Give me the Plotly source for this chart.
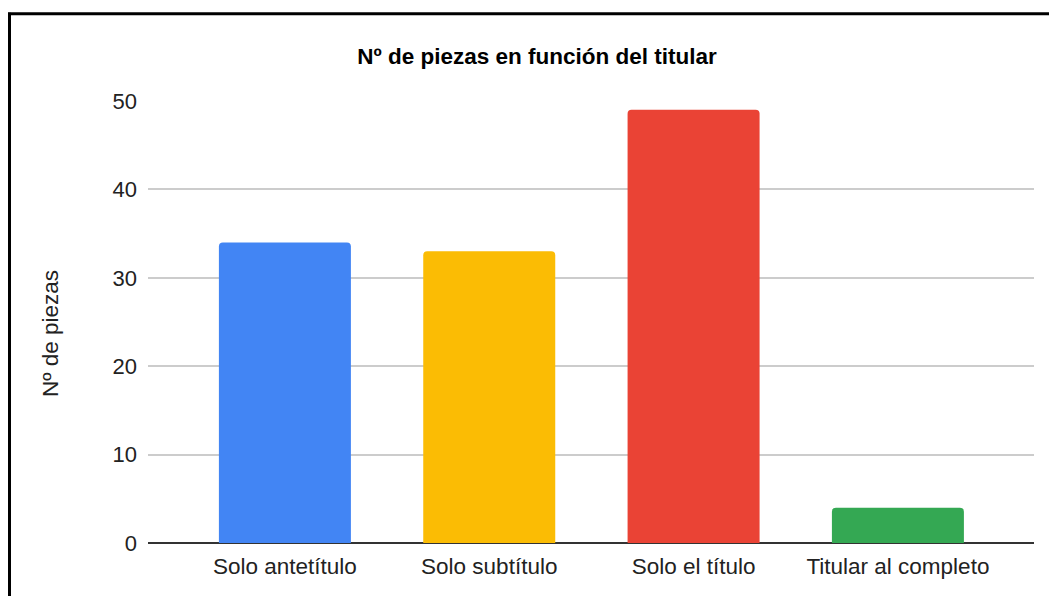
import plotly.graph_objects as go

categories = ["Solo antetítulo", "Solo subtítulo", "Solo el título", "Titular al completo"]
values = [34, 33, 49, 4]
colors = ["#4285F4", "#FBBC04", "#EA4335", "#34A853"]
y_ticks = [0, 10, 20, 30, 40, 50]

# page body has an 8px margin; work in reference-pixel coordinates minus that offset
OFF = 8
W, H = 1057 - OFF, 596 - OFF
ML = 148 - OFF
MT = 100.5 - OFF
MR = W - (1034 - OFF)
MB = H - (543.5 - OFF)
PW = W - ML - MR
PH = H - MT - MB

FONT = "Arial, Liberation Sans, sans-serif"

fig = go.Figure(
    go.Bar(
        x=categories,
        y=values,
        marker=dict(color=colors, line=dict(width=0)),
        width=0.646,
        hoverinfo="x+y",
    )
)

def px_x(p):
    return (p - OFF - ML) / PW

def px_y(p):
    return (H - MB - (p - OFF)) / PH

fig.update_layout(
    width=W,
    height=H,
    margin=dict(l=ML, r=MR, t=MT, b=MB),
    paper_bgcolor="white",
    plot_bgcolor="white",
    barcornerradius=4,
    showlegend=False,
    font=dict(family=FONT, color="#222222"),
    title=dict(
        text="<b>Nº de piezas en función del titular</b>",
        x=(537 - OFF) / W,
        xanchor="center",
        y=1 - (56 - OFF) / H,
        yanchor="middle",
        font=dict(size=22.5, color="#000000", family=FONT),
    ),
    xaxis=dict(
        range=[-0.67, 3.666],
        showgrid=False,
        showline=False,
        zeroline=False,
        ticks="",
        tickfont=dict(size=22.5, color="#222222", family=FONT),
        ticklabelstandoff=7,
    ),
    yaxis=dict(
        range=[0, 50],
        tickvals=y_ticks,
        showgrid=True,
        gridcolor="#cccccc",
        gridwidth=1.5,
        zeroline=True,
        zerolinecolor="#333333",
        zerolinewidth=2,
        showline=False,
        ticks="",
        tickfont=dict(size=22, color="#222222", family=FONT),
        ticklabelstandoff=10,
    ),
    annotations=[
        dict(
            text="Nº de piezas",
            xref="paper",
            yref="paper",
            x=px_x(51),
            y=px_y(334),
            xanchor="center",
            yanchor="middle",
            textangle=-90,
            showarrow=False,
            font=dict(size=22.5, color="#222222", family=FONT),
        )
    ],
    shapes=[
        dict(type="line", xref="paper", yref="paper",
             x0=px_x(9.5), x1=px_x(9.5), y0=px_y(12), y1=px_y(620),
             line=dict(color="black", width=3)),
        dict(type="line", xref="paper", yref="paper",
             x0=px_x(8), x1=px_x(1080), y0=px_y(13), y1=px_y(13),
             line=dict(color="black", width=3)),
    ],
)

fig.write_html("out.html")
